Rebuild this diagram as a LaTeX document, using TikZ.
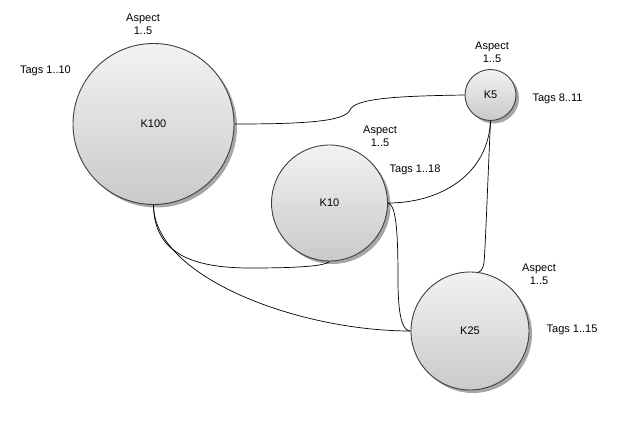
\documentclass[tikz,border=0pt]{standalone}
\usepackage{fontspec}
\setmainfont{Liberation Sans}
\usetikzlibrary{shadows}
\begin{document}
\begin{tikzpicture}[x=1pt,y=-1pt,
  keynode/.style={circle, draw=black!75, line width=0.9pt, inner sep=0pt,
    top color=black!5, bottom color=black!21,
    drop shadow={shadow xshift=3pt, shadow yshift=-3pt, fill=black!35, opacity=1},
    font=\fontsize{11}{13}\selectfont},
  lbl/.style={align=center, inner sep=0pt, font=\fontsize{11}{13}\selectfont},
  conn/.style={draw=black, line width=0.7pt}]
\useasboundingbox (0,0) rectangle (633,422);
\node[keynode, minimum size=161pt] (k100) at (153.5,124) {K100};
\node[keynode, minimum size=51pt] (k5) at (490.5,95) {K5};
\node[keynode, minimum size=116pt] (k10) at (329.5,203) {K10};
\node[keynode, minimum size=118pt] (k25) at (470,331) {K25};
% labels
\node[lbl] (a100) at (143,24.5) {Aspect\\1..5};
\node[lbl] (t100) at (45.5,71) {Tags 1..10};
\node[lbl] (a5) at (492,52) {Aspect\\1..5};
\node[lbl] (t5) at (557.5,98.5) {Tags 8..11};
\node[lbl] (a10) at (380,136.5) {Aspect\\1..5};
\node[lbl] (t10) at (415,170) {Tags 1..18};
\node[lbl] (a25) at (539,274.5) {Aspect\\1..5};
\node[lbl] (t25) at (572,330) {Tags 1..15};
% connectors
\draw[conn] (k100.east) .. controls (300,124) and (345,122) .. (350,110)
  .. controls (355,98) and (400,96) .. (k5.west);
\draw[conn] (k5.south) .. controls (488,175) and (440,203) .. (k10.east);
\draw[conn] (k5.south) .. controls (487,200) and (485,255) .. (484,262)
  .. controls (483,270) and (480,272) .. (k25.82);
\draw[conn] (k10.east) .. controls (396,205) and (398,230) .. (398,280)
  .. controls (398,325) and (405,331) .. (k25.west);
\draw[conn] (k100.south) .. controls (154,252) and (190,268) .. (250,268)
  .. controls (300,268) and (325,266) .. (k10.south);
\draw[conn] (k100.south) .. controls (154,277) and (298,331) .. (k25.west);
\end{tikzpicture}
\end{document}
